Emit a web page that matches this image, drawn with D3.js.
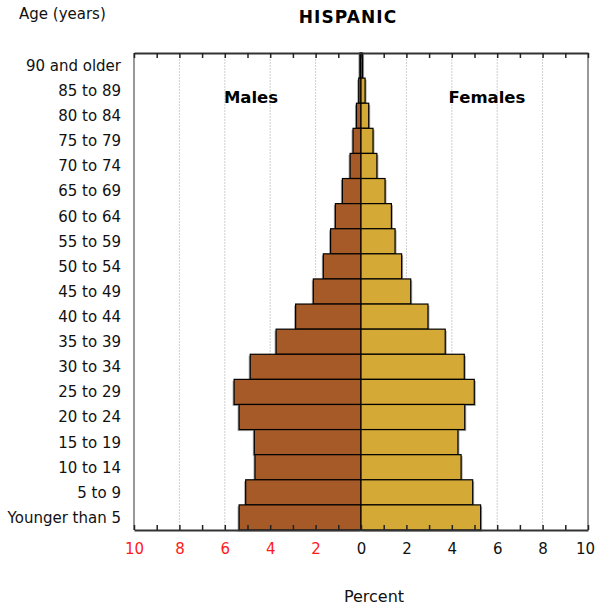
<!DOCTYPE html>
<html><head><meta charset="utf-8">
<script src="https://cdn.jsdelivr.net/npm/d3@7"></script>
<style>
body{margin:0;background:#fff;}
svg text{font-family:"DejaVu Sans",Verdana,sans-serif;}
</style></head>
<body><svg id="c" width="596" height="609"></svg>
<script>
const categories = ["90 and older","85 to 89","80 to 84","75 to 79","70 to 74","65 to 69","60 to 64","55 to 59","50 to 54","45 to 49","40 to 44","35 to 39","30 to 34","25 to 29","20 to 24","15 to 19","10 to 14","5 to 9","Younger than 5"];
const males   = [0.05,0.10,0.20,0.35,0.48,0.82,1.13,1.34,1.66,2.10,2.88,3.74,4.88,5.59,5.37,4.70,4.67,5.08,5.37];
const females = [0.07,0.18,0.34,0.53,0.70,1.06,1.34,1.50,1.79,2.19,2.95,3.71,4.55,4.99,4.57,4.27,4.41,4.92,5.27];
const tickValues = [-10,-8,-6,-4,-2,0,2,4,6,8,10];
const minorTicks = d3.range(-10,11,1);
const gridValues = [-8,-6,-4,-2,2,4,6,8];

const svg = d3.select("#c");
const L=134, R=588, T=53, B=530;
const x = d3.scaleLinear().domain([-10,10]).range([L,R]);
const y = d3.scaleBand().domain(categories).range([T,B]).padding(0);

// gridlines
svg.append("g").selectAll("line").data(gridValues).join("line")
  .attr("x1",d=>x(d)).attr("x2",d=>x(d)).attr("y1",T).attr("y2",B)
  .attr("stroke","#cfcfcf").attr("stroke-width",1).attr("stroke-dasharray","2,1");

// shadows
const sh = svg.append("g").attr("fill","rgba(0,0,0,0.35)");
sh.selectAll(".ms").data(categories).join("rect")
  .attr("x",(d,i)=>x(-males[i])-1.5).attr("y",d=>y(d)+1.5)
  .attr("width",(d,i)=>x(0)-x(-males[i])).attr("height",y.bandwidth());
sh.selectAll(".fs").data(categories).join("rect")
  .attr("x",x(0)+1.5).attr("y",d=>y(d)+1.5)
  .attr("width",(d,i)=>x(females[i])-x(0)).attr("height",y.bandwidth());

// bars
svg.append("g").selectAll("rect").data(categories).join("rect")
  .attr("x",(d,i)=>x(-males[i])).attr("y",d=>y(d))
  .attr("width",(d,i)=>x(0)-x(-males[i])).attr("height",y.bandwidth())
  .attr("fill","#a65a27").attr("stroke","#000").attr("stroke-width",1.2);
svg.append("g").selectAll("rect").data(categories).join("rect")
  .attr("x",x(0)).attr("y",d=>y(d))
  .attr("width",(d,i)=>x(females[i])-x(0)).attr("height",y.bandwidth())
  .attr("fill","#d4a935").attr("stroke","#000").attr("stroke-width",1.2);

// frame sides
svg.append("line").attr("x1",L).attr("x2",L).attr("y1",T).attr("y2",B).attr("stroke","#999").attr("stroke-width",2);
svg.append("line").attr("x1",R).attr("x2",R).attr("y1",T).attr("y2",B).attr("stroke","#999").attr("stroke-width",2);

// top axis
const topAxis = svg.append("g").attr("transform",`translate(0,${T})`)
  .call(d3.axisTop(x).tickValues(minorTicks).tickSize(-5).tickSizeOuter(0).tickFormat(""));
topAxis.select(".domain").attr("stroke","#333").attr("stroke-width",2);
topAxis.selectAll(".tick line").attr("stroke","#222").attr("stroke-width",1.5);

// bottom axis
const botAxis = svg.append("g").attr("transform",`translate(0,${B})`)
  .call(d3.axisBottom(x).tickValues(minorTicks).tickSize(-5).tickSizeOuter(0)
    .tickFormat(d=>tickValues.includes(d)?Math.abs(d):""));
botAxis.select(".domain").attr("stroke","#333").attr("stroke-width",2);
botAxis.selectAll(".tick line").attr("stroke","#222").attr("stroke-width",1.5);
botAxis.selectAll(".tick text").attr("y",13).attr("dy","0.71em")
  .attr("font-size",15).attr("font-family","DejaVu Sans")
  .attr("x",d=>d===10?-3:0)
  .attr("fill",d=>d<0?"#ff1a1a":"#111");

// category labels
svg.append("g").selectAll("text").data(categories).join("text")
  .attr("x",121).attr("y",d=>y(d)+y.bandwidth()/2).attr("dy","0.36em")
  .attr("text-anchor","end").attr("font-size",15).attr("fill","#111").text(d=>d);

svg.append("text").attr("x",19).attr("y",19).attr("font-size",15).attr("fill","#111").text("Age (years)");
svg.append("text").attr("x",348).attr("y",23).attr("text-anchor","middle").attr("font-size",17)
  .attr("font-weight","bold").attr("letter-spacing",1.1).attr("fill","#000").text("HISPANIC");
svg.append("text").attr("x",251).attr("y",103).attr("text-anchor","middle").attr("font-size",16.5)
  .attr("font-weight","bold").attr("fill","#000").text("Males");
svg.append("text").attr("x",487).attr("y",103).attr("text-anchor","middle").attr("font-size",16.5)
  .attr("font-weight","bold").attr("fill","#000").text("Females");
svg.append("text").attr("x",374).attr("y",602).attr("text-anchor","middle").attr("font-size",16)
  .attr("fill","#111").text("Percent");
</script></body></html>
